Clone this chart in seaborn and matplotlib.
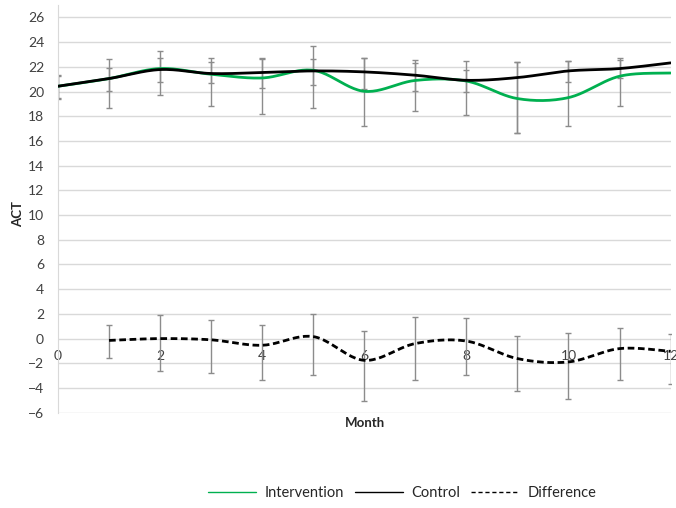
import numpy as np
import matplotlib
matplotlib.use("Agg")
import matplotlib.pyplot as plt
import seaborn as sns
from matplotlib.lines import Line2D

# values
months = [0, 1, 2, 3, 4, 5, 6, 7, 8, 9, 10, 11, 12]
intervention = [20.43, 21.05, 21.86, 21.4, 21.1, 21.72, 20.02, 20.9, 20.85, 19.43, 19.51, 21.24, 21.5]
control = [20.43, 21.05, 21.78, 21.46, 21.54, 21.67, 21.59, 21.32, 20.91, 21.13, 21.67, 21.86, 22.32]

# error bar ends (months 0..11)
err_months = [0, 1, 2, 3, 4, 5, 6, 7, 8, 9, 10, 11]
int_low = [19.38, 18.67, 19.7, 18.79, 18.22, 18.67, 17.21, 18.4, 18.14, 16.62, 17.21, 18.83]
int_high = [21.32, 22.67, 23.32, 22.72, 22.72, 23.67, 22.75, 22.53, 22.45, 22.37, 22.45, 22.72]
ctl_low = [19.48, 20.05, 20.75, 20.7, 20.32, 20.57, 20.21, 20.05, 19.94, 16.62, 20.81, 21.08]
ctl_high = [21.24, 21.94, 22.75, 22.37, 22.67, 22.67, 22.75, 22.32, 21.75, 22.37, 22.45, 22.53]

diff_months = [1, 2, 3, 4, 5, 6, 7, 8, 9, 10, 11, 12]
difference = [-0.15, 0.0, -0.1, -0.54, 0.16, -1.76, -0.4, -0.2, -1.62, -1.89, -0.81, -1.03]
diff_low = [-1.57, -2.62, -2.75, -3.35, -2.97, -5.08, -3.38, -2.97, -4.27, -4.89, -3.35, -3.7]
diff_high = [1.08, 1.94, 1.54, 1.13, 2.02, 0.65, 1.78, 1.7, 0.21, 0.45, 0.86, 0.4]

green = "#00B050"
grey = "#8c8c8c"


def smooth(x, y, n=24):
    # Excel-style smoothed line (Catmull-Rom through the points)
    x = np.asarray(x, float)
    y = np.asarray(y, float)
    px = np.concatenate([[x[0]], x, [x[-1]]])
    py = np.concatenate([[y[0]], y, [y[-1]]])
    xs, ys = [], []
    for i in range(1, len(px) - 2):
        t = np.linspace(0, 1, n, endpoint=False)
        for arr, out in ((px, xs), (py, ys)):
            p0, p1, p2, p3 = arr[i - 1], arr[i], arr[i + 1], arr[i + 2]
            c1 = p1 + (p2 - p0) / 6
            c2 = p2 - (p3 - p1) / 6
            out.extend((1 - t) ** 3 * p1 + 3 * (1 - t) ** 2 * t * c1
                       + 3 * (1 - t) * t ** 2 * c2 + t ** 3 * p2)
    xs.append(x[-1])
    ys.append(y[-1])
    return np.array(xs), np.array(ys)


sns.set_style("white")
plt.rcParams["font.family"] = ["Lato", "DejaVu Sans"]

fig = plt.figure(figsize=(6.76, 5.08), dpi=100)
ax = fig.add_axes([0.0858, 0.1876, 0.9062, 0.8024])

# error bars
def bars(xv, lo, hi):
    xv = np.asarray(xv)
    lo = np.asarray(lo)
    hi = np.asarray(hi)
    mid = (lo + hi) / 2
    ax.errorbar(xv, mid, yerr=[mid - lo, hi - mid], fmt="none", ecolor=grey,
                elinewidth=1, capsize=2.5, capthick=1, zorder=2)

bars(err_months, int_low, int_high)
bars(err_months, ctl_low, ctl_high)
bars(diff_months, diff_low, diff_high)

sx, sy = smooth(months, intervention)
sns.lineplot(x=sx, y=sy, ax=ax, color=green, lw=2, sort=False, zorder=3)
sx, sy = smooth(months, control)
sns.lineplot(x=sx, y=sy, ax=ax, color="black", lw=2, sort=False, zorder=4)
sx, sy = smooth(diff_months, difference)
sns.lineplot(x=sx, y=sy, ax=ax, color="black", lw=2, sort=False, zorder=4,
             linestyle=(0, (2.4, 1.3)))

ax.set_xlim(0, 12)
ax.set_ylim(-6, 27)
ax.set_yticks(range(-6, 27, 2))
ax.set_xticks(range(0, 13, 2))
ax.grid(axis="y", color="#d9d9d9", lw=1)
ax.set_axisbelow(True)

for s in ["top", "right"]:
    ax.spines[s].set_visible(False)
ax.spines["bottom"].set_position(("data", 0))
ax.spines["bottom"].set_visible(False)
ax.spines["left"].set_color("#d9d9d9")
ax.tick_params(axis="y", length=0, pad=10, labelsize=10, colors="#404040")
ax.tick_params(axis="x", length=0, pad=8, labelsize=10, colors="#404040")

fig.text(0.027, 0.578, "ACT", rotation=90, ha="center", va="center",
         fontsize=9.5, fontweight="bold")
fig.text(0.54, 0.167, "Month", ha="center", va="center",
         fontsize=9.5, fontweight="bold")

handles = [Line2D([], [], color=green, lw=1),
           Line2D([], [], color="black", lw=1),
           Line2D([], [], color="black", lw=1, linestyle=(0, (3, 2)))]
fig.legend(handles, ["Intervention", "Control", "Difference"], ncol=3,
           loc="center", bbox_to_anchor=(0.595, 0.029), frameon=False,
           fontsize=10.5, handlelength=3.3, columnspacing=0.7, handletextpad=0.6)

fig.savefig("out.png", dpi=100)
